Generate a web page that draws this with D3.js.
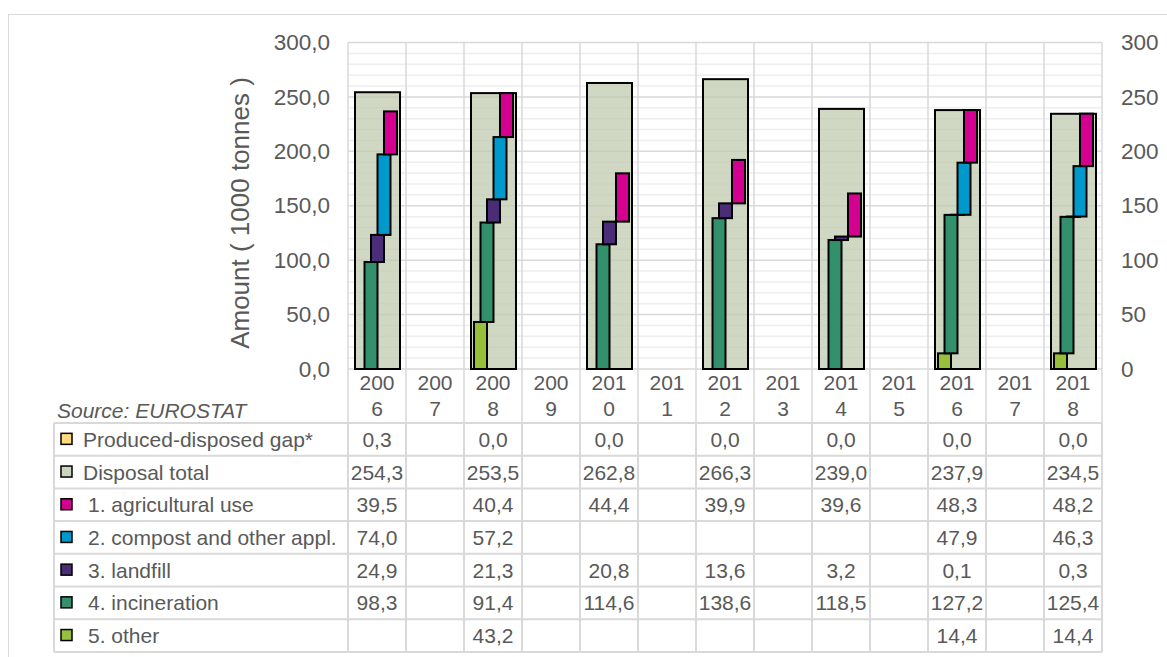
<!DOCTYPE html>
<html>
<head>
<meta charset="utf-8">
<script src="https://cdn.jsdelivr.net/npm/d3@7"></script>
<style>
  html, body { margin: 0; padding: 0; background: #fff; }
  svg { display: block; font-family: "Liberation Sans", Arial, sans-serif; }
</style>
</head>
<body>
<svg id="chart" width="1167" height="657"></svg>
<script>
// Sewage sludge disposal, 1000 tonnes
const years = ["2006","2007","2008","2009","2010","2011","2012","2013","2014","2015","2016","2017","2018"];
const gapValues      = [0.3, null, 0.0, null, 0.0, null, 0.0, null, 0.0, null, 0.0, null, 0.0];
const totalValues    = [254.3, null, 253.5, null, 262.8, null, 266.3, null, 239.0, null, 237.9, null, 234.5];
const agriValues     = [39.5, null, 40.4, null, 44.4, null, 39.9, null, 39.6, null, 48.3, null, 48.2];
const compostValues  = [74.0, null, 57.2, null, null, null, null, null, null, null, 47.9, null, 46.3];
const landfillValues = [24.9, null, 21.3, null, 20.8, null, 13.6, null, 3.2, null, 0.1, null, 0.3];
const incinValues    = [98.3, null, 91.4, null, 114.6, null, 138.6, null, 118.5, null, 127.2, null, 125.4];
const otherValues    = [null, null, 43.2, null, null, null, null, null, null, null, 14.4, null, 14.4];
const yTicks = [0, 50, 100, 150, 200, 250, 300];

const C = {
  gap: "#ffd97d", total: "#bec8aa", agri: "#d4008f", compost: "#0099cc",
  landfill: "#4b2d77", incin: "#33906c", other: "#96c03c"
};

// table rows (legend + values), top to bottom
const rows = [
  { label: "Produced-disposed gap*", values: gapValues, color: "#ffd97d", indent: 0 },
  { label: "Disposal total", values: totalValues, color: "#ccd5bd", indent: 0 },
  { label: "1. agricultural use", values: agriValues, color: C.agri, indent: 5 },
  { label: "2. compost and other appl.", values: compostValues, color: C.compost, indent: 5 },
  { label: "3. landfill", values: landfillValues, color: C.landfill, indent: 5 },
  { label: "4. incineration", values: incinValues, color: C.incin, indent: 5 },
  { label: "5. other", values: otherValues, color: C.other, indent: 5 }
];

// staircase order, bottom to top; slot = horizontal step inside the column
const stack = [
  { values: otherValues, color: C.other, slot: 0 },
  { values: incinValues, color: C.incin, slot: 1 },
  { values: landfillValues, color: C.landfill, slot: 2 },
  { values: compostValues, color: C.compost, slot: 3 },
  { values: agriValues, color: C.agri, slot: 4 }
];

const svg = d3.select("#chart");
const textColor = "#595959";
const gridMajor = "#d9d9d9", gridMinor = "#eeeeee";

const plot = { left: 348, right: 1102, top: 42.5, bottom: 369 };
const table = { left: 54, top: 423, rowH: 32.7 };
const catBottom = table.top;

const x = d3.scaleBand().domain(years).range([plot.left, plot.right]).padding(0);
const y = d3.scaleLinear().domain([0, 300]).range([plot.bottom, plot.top]);
const bw = x.bandwidth();
const fmt = v => v == null ? "" : d3.format(".1f")(v).replace(".", ",");

// outer chart frame
svg.append("rect").attr("x", 8.5).attr("y", 14.5).attr("width", 1200).attr("height", 700)
  .attr("fill", "#fff").attr("stroke", "#d9d9d9").attr("stroke-width", 1);

// horizontal gridlines (minor every 10, major every 50)
const minor = d3.range(10, 300, 10).filter(v => v % 50 !== 0);
svg.append("g").selectAll("line").data(minor).join("line")
  .attr("x1", plot.left).attr("x2", plot.right)
  .attr("y1", d => y(d)).attr("y2", d => y(d))
  .attr("stroke", gridMinor).attr("stroke-width", 1.5);
svg.append("g").selectAll("line").data(yTicks.filter(v => v > 0)).join("line")
  .attr("x1", plot.left).attr("x2", plot.right)
  .attr("y1", d => y(d)).attr("y2", d => y(d))
  .attr("stroke", gridMajor).attr("stroke-width", 1.5);

// vertical category separators through plot and label area
const bounds = years.map(yr => x(yr)).concat([plot.right]);
svg.append("g").selectAll("line").data(bounds).join("line")
  .attr("x1", d => d).attr("x2", d => d)
  .attr("y1", plot.top).attr("y2", catBottom)
  .attr("stroke", gridMajor).attr("stroke-width", 1.5);
svg.append("line").attr("x1", plot.left).attr("x2", plot.right)
  .attr("y1", plot.bottom).attr("y2", plot.bottom)
  .attr("stroke", gridMajor).attr("stroke-width", 1.5);

// produced-disposed gap sits on top of the total
const totalW = bw * 0.776;
const totalX = yr => x(yr) + bw / 2 - totalW / 2 + 0.5;
svg.append("g").selectAll("rect")
  .data(years.map((yr, i) => ({ yr, t: totalValues[i], g: gapValues[i] })).filter(d => d.t != null && d.g))
  .join("rect")
  .attr("x", d => totalX(d.yr)).attr("width", totalW)
  .attr("y", d => y(d.t + d.g)).attr("height", d => y(d.t) - y(d.t + d.g))
  .attr("fill", C.gap);

// disposal total
svg.append("g").selectAll("rect")
  .data(years.map((yr, i) => ({ yr, v: totalValues[i] })).filter(d => d.v != null))
  .join("rect")
  .attr("x", d => totalX(d.yr)).attr("width", totalW)
  .attr("y", d => y(d.v)).attr("height", d => y(0) - y(d.v))
  .attr("fill", C.total).attr("fill-opacity", 0.72)
  .attr("stroke", "#000").attr("stroke-width", 2);

// staircase of disposal routes
const segW = bw * 0.224, step = bw * 0.112;
const segs = [];
years.forEach((yr, i) => {
  let base = 0;
  stack.forEach(s => {
    const v = s.values[i];
    if (v != null) {
      segs.push({ yr, y0: base, y1: base + v, color: s.color, slot: s.slot });
      base += v;
    }
  });
});
svg.append("g").selectAll("rect").data(segs).join("rect")
  .attr("x", d => x(d.yr) + bw / 2 + (d.slot - 2) * step - segW / 2 + 0.5)
  .attr("width", segW)
  .attr("y", d => y(d.y1)).attr("height", d => Math.max(0, y(d.y0) - y(d.y1)))
  .attr("fill", d => d.color).attr("stroke", "#000").attr("stroke-width", 2);

// left axis
const leftAxis = d3.axisLeft(y).tickValues(yTicks).tickSize(0).tickPadding(0)
  .tickFormat(d => d3.format(".1f")(d).replace(".", ","));
const gl = svg.append("g").attr("transform", "translate(330,0)").call(leftAxis);
gl.select(".domain").remove();
gl.selectAll("text").attr("fill", textColor).attr("font-size", 22.5)
  .attr("font-family", "Liberation Sans, Arial, sans-serif");

// right axis
const rightAxis = d3.axisRight(y).tickValues(yTicks).tickSize(0).tickPadding(0)
  .tickFormat(d3.format("d"));
const gr = svg.append("g").attr("transform", "translate(1121,0)").call(rightAxis);
gr.select(".domain").remove();
gr.selectAll("text").attr("fill", textColor).attr("font-size", 22.5)
  .attr("font-family", "Liberation Sans, Arial, sans-serif");

// axis title
svg.append("text")
  .attr("transform", "translate(249,213) rotate(-90)")
  .attr("text-anchor", "middle")
  .attr("fill", textColor).attr("font-size", 26)
  .text("Amount ( 1000 tonnes )");

// category labels, wrapped as in a narrow column
const cat = svg.append("g").selectAll("text").data(years).join("text")
  .attr("text-anchor", "middle").attr("fill", textColor).attr("font-size", 21);
cat.append("tspan").attr("x", d => x(d) + bw / 2).attr("y", 390).text(d => d.slice(0, 3));
cat.append("tspan").attr("x", d => x(d) + bw / 2).attr("y", 416).text(d => d.slice(3));

// source note
svg.append("text").attr("x", 57).attr("y", 418)
  .attr("fill", textColor).attr("font-size", 21).attr("font-style", "italic")
  .text("Source: EUROSTAT");

// data table
const tg = svg.append("g");
const tableBottom = table.top + rows.length * table.rowH;
rows.forEach((r, i) => {
  const y0 = table.top + i * table.rowH;
  const cy = y0 + table.rowH / 2;
  tg.append("rect").attr("x", 61).attr("y", cy - 6).attr("width", 11).attr("height", 11)
    .attr("fill", r.color).attr("stroke", "#000").attr("stroke-width", 1.5);
  tg.append("text").attr("x", 83 + r.indent).attr("y", cy + 7.5)
    .attr("fill", textColor).attr("font-size", 21).text(r.label);
  tg.selectAll(null).data(years.map((yr, j) => ({ yr, v: r.values[j] })).filter(d => d.v != null))
    .join("text")
    .attr("x", d => x(d.yr) + bw / 2).attr("y", cy + 7.5)
    .attr("text-anchor", "middle").attr("fill", textColor).attr("font-size", 21)
    .text(d => fmt(d.v));
});
// table grid lines
d3.range(rows.length + 1).forEach(i => {
  const yy = table.top + i * table.rowH;
  tg.append("line").attr("x1", table.left).attr("x2", plot.right).attr("y1", yy).attr("y2", yy)
    .attr("stroke", gridMajor).attr("stroke-width", 2);
});
[table.left].concat(bounds).forEach(xx => {
  tg.append("line").attr("x1", xx).attr("x2", xx).attr("y1", table.top).attr("y2", tableBottom)
    .attr("stroke", gridMajor).attr("stroke-width", 2);
});
</script>
</body>
</html>
